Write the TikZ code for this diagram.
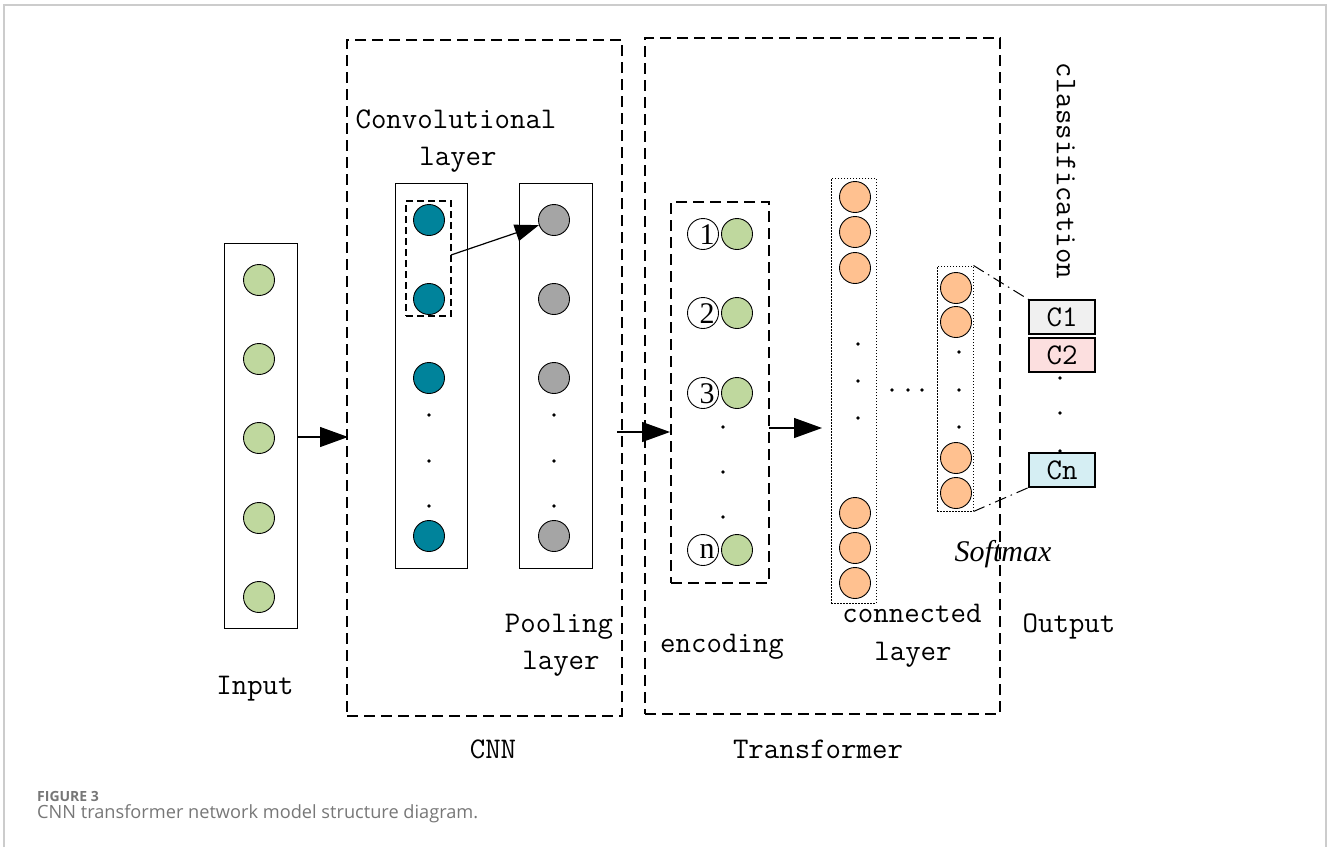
\documentclass[tikz,border=0pt]{standalone}
\usepackage{fontspec}
\newfontfamily\capfont{Open Sans}
\newfontfamily\numfont{Liberation Serif}
\usetikzlibrary{arrows.meta}
\definecolor{ingreen}{HTML}{BFD89E}
\definecolor{teal}{HTML}{00839B}
\definecolor{pgrey}{HTML}{A5A5A5}
\definecolor{orng}{HTML}{FFC190}
\definecolor{cone}{HTML}{F0F0F0}
\definecolor{ctwo}{HTML}{FCDFDF}
\definecolor{cnn}{HTML}{D5EEF3}
\definecolor{framegrey}{HTML}{CCCCCC}
\definecolor{captgrey}{HTML}{777777}
\tikzset{
  neuron/.style={circle,draw,line width=0.9pt,minimum size=31pt,inner sep=0pt},
  layerbox/.style={draw,line width=1pt},
  dashbox/.style={draw,line width=1.2pt,dash pattern=on 11pt off 6pt},
  dotbox/.style={draw,line width=1pt,dash pattern=on 1.5pt off 1.5pt},
  lbl/.style={font=\fontsize{30}{32}\selectfont\ttfamily,inner sep=0pt,anchor=base},
  dotc/.style={circle,fill,inner sep=0pt,minimum size=3.6pt},
  bigarrow/.style={line width=1.2pt,-{Triangle[length=28pt,width=20pt]}},
  classbox/.style={draw,line width=1.2pt,minimum width=66pt,minimum height=34pt,inner sep=0pt,font=\fontsize{30}{32}\selectfont\ttfamily},
  dashdot/.style={line width=1pt,dash pattern=on 12pt off 5pt on 1.5pt off 5pt}
}
\begin{document}
\begin{tikzpicture}[x=1pt,y=-1pt]
\useasboundingbox (0,0) rectangle (1328,847);
% outer frame
\draw[framegrey,line width=1.5pt] (4,847) -- (4,5) -- (1326,5) -- (1326,847);
% caption
\node[anchor=base west,inner sep=0pt,text=captgrey,font=\capfont\bfseries\fontsize{14}{16}\selectfont] (figlbl) at (37,801) {FIGURE 3};
\node[anchor=base west,inner sep=0pt,text=captgrey,font=\capfont\fontsize{18.2}{20}\selectfont] (figcap) at (37,818) {CNN transformer network model structure diagram.};

% input layer
\node[layerbox,minimum width=73pt,minimum height=385pt,inner sep=0pt] (inbox) at (260.5,435.5) {};
\foreach \y [count=\i] in {280,359,438,518,597}
  \node[neuron,fill=ingreen] (in\i) at (259,\y) {};
\node[lbl] (inlbl) at (255,694) {Input};

% CNN
\node[dashbox,minimum width=275pt,minimum height=676pt,inner sep=0pt] (cnnbox) at (484.5,378) {};
\node[lbl] (cnnlbl) at (493,758) {CNN};
\node[layerbox,minimum width=72pt,minimum height=385pt,inner sep=0pt] (convbox) at (431,375.5) {};
\node[layerbox,minimum width=73pt,minimum height=385pt,inner sep=0pt] (poolbox) at (555.5,375.5) {};
\foreach \y [count=\i] in {220,299,378,536}{
  \node[neuron,fill=teal] (cv\i) at (429,\y) {};
  \node[neuron,fill=pgrey] (pl\i) at (554,\y) {};
}
\foreach \y [count=\i] in {415,461,506}{
  \node[dotc] (cvd\i) at (429,\y) {};
  \node[dotc] (pld\i) at (554,\y) {};
}
\node[draw,line width=1.2pt,dash pattern=on 7pt off 4pt,minimum width=45pt,minimum height=115pt,inner sep=0pt] (kern) at (428.5,258.5) {};
\coordinate (kernout) at (451,255);
\draw[line width=1.2pt,-{Triangle[length=24pt,width=17pt]}] (kernout) -- (pl1);
\node[lbl] (convlbl1) at (456,128) {Convolutional};
\node[lbl] (convlbl2) at (458,165) {layer};
\node[lbl] (poollbl1) at (559,632) {Pooling};
\node[lbl] (poollbl2) at (561,669) {layer};

% input -> CNN
\coordinate (inout) at (297,437);
\coordinate (cnnin) at (348,437);
\draw[bigarrow] (inout) -- (cnnin);

% Transformer
\node[dashbox,minimum width=355pt,minimum height=676pt,inner sep=0pt] (trbox) at (822.5,376) {};
\node[lbl] (trlbl) at (818,758) {Transformer};

% encoding
\node[dashbox,minimum width=98pt,minimum height=381pt,inner sep=0pt] (encbox) at (720,392.5) {};
\node[lbl] (enclbl) at (722,652) {encoding};
\foreach \y/\t [count=\i] in {234/1,313/2,393/3,550/n}{
  \node[neuron,fill=white] (pos\i) at (703,\y) {};
  \node[inner sep=0pt,font=\numfont\fontsize{30}{30}\selectfont] (num\i) at (707,\y+1) {\t};
  \node[neuron,fill=ingreen] (emb\i) at (737,\y) {};
}
\foreach \y [count=\i] in {427,472,517}
  \node[dotc] (encd\i) at (723,\y) {};

% CNN -> encoding
\coordinate (cnnout) at (617,432);
\coordinate (encin) at (670,432);
\draw[bigarrow] (cnnout) -- (encin);

% encoding -> fully connected
\coordinate (encout) at (769,428);
\coordinate (fcin) at (822,428);
\draw[bigarrow] (encout) -- (fcin);

% fully connected layer
\node[dotbox,minimum width=45pt,minimum height=425pt,inner sep=0pt] (fcbox) at (853.5,390.5) {};
\foreach \y [count=\i] in {197,232,268,513,548,583}
  \node[neuron,fill=orng] (fc\i) at (855,\y) {};
\foreach \y [count=\i] in {344,381,418}
  \node[dotc] (fcd\i) at (858,\y) {};
\node[lbl] (fclbl1) at (912,622) {connected};
\node[lbl] (fclbl2) at (913,660) {layer};
\foreach \x [count=\i] in {892,908,922}
  \node[dotc] (hd\i) at (\x,390) {};

% softmax layer
\node[dotbox,minimum width=36pt,minimum height=245pt,inner sep=0pt] (smbox) at (955,388.5) {};
\foreach \y [count=\i] in {288,322,458,493}
  \node[neuron,fill=orng] (sm\i) at (956,\y) {};
\foreach \y [count=\i] in {352,390,427}
  \node[dotc] (smd\i) at (959,\y) {};
\node[inner sep=0pt,anchor=base,font=\numfont\itshape\fontsize{30}{32}\selectfont] (smlbl) at (1003,561) {Softmax};

% output classes
\node[classbox,fill=cone] (c1) at (1062,317) {C1};
\node[classbox,fill=ctwo] (c2) at (1062,355) {C2};
\node[classbox,fill=cnn] (cn) at (1062,470) {Cn};
\foreach \y [count=\i] in {378,413,451}
  \node[dotc] (cd\i) at (1060,\y) {};
\draw[dashdot] (smbox.north east) -- (c1.north west);
\draw[dashdot] (smbox.south east) -- (cn.south west);
\node[lbl,anchor=center,rotate=-90] (clslbl) at (1066,171) {classification};
\node[lbl] (outlbl) at (1069,632) {Output};
\end{tikzpicture}
\end{document}
